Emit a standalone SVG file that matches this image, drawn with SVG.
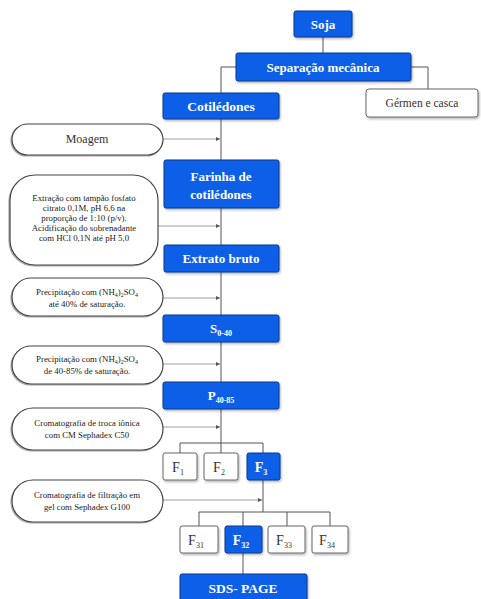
<svg xmlns="http://www.w3.org/2000/svg" width="481" height="599" viewBox="0 0 481 599" font-family="'Liberation Serif', 'Times New Roman', serif">
<defs>
<style>
.b{fill:#0b5fe8;stroke:#0a3a8c;stroke-width:1;filter:url(#sh)}
.w{fill:#fff;stroke:#666;stroke-width:1;filter:url(#sh)}
.s{fill:#fff;stroke:#444;stroke-width:1.2;filter:url(#sh2)}
.bt{font-family:'Liberation Serif',serif;font-weight:bold;fill:#fff;text-anchor:middle}
.wt{font-family:'Liberation Serif',serif;fill:#333;text-anchor:middle}
.st{font-family:'Liberation Serif',serif;fill:#222;text-anchor:middle;font-size:8.8px}
.c{fill:none;stroke:#555;stroke-width:1}
.cg{fill:none;stroke:#888;stroke-width:0.8}
</style>
<filter id="sh" x="-10%" y="-20%" width="120%" height="150%">
<feDropShadow dx="1" dy="1.5" stdDeviation="0.8" flood-color="#000" flood-opacity="0.3"/>
</filter>
<filter id="sh2" x="-10%" y="-20%" width="120%" height="150%">
<feDropShadow dx="-1" dy="1" stdDeviation="0.6" flood-color="#000" flood-opacity="0.35"/>
</filter>
<marker id="a" markerWidth="5" markerHeight="5" refX="4" refY="2.5" orient="auto" markerUnits="userSpaceOnUse">
<path d="M0,0.5 L4,2.5 L0,4.5 z" fill="#555"/>
</marker>
</defs>
<rect width="481" height="599" fill="#fff"/>
<g id="connectors">
<path class="c" d="M323,37 V53"/>
<path class="c" d="M236,67 H221 V93"/>
<path class="c" d="M411,67 H428 V89"/>
<path class="c" d="M221,119 V160"/>
<path class="c" d="M221,208 V245"/>
<path class="c" d="M221,272 V315"/>
<path class="c" d="M221,342 V382"/>
<path class="c" d="M221,409 V453"/>
<path class="c" d="M180,443 H263 M180,443 V453 M263,443 V453"/>
<path class="c" d="M263,480 V512"/>
<path class="c" d="M199,512 H330 M199,512 V526 M243,512 V526 M287,512 V526 M330,512 V526"/>
<path class="c" d="M243,553 V574"/>
<path class="cg" d="M163,139 H220" marker-end="url(#a)"/>
<path class="cg" d="M158,226 H220" marker-end="url(#a)"/>
<path class="cg" d="M163,298 H220" marker-end="url(#a)"/>
<path class="cg" d="M163,364 H220" marker-end="url(#a)"/>
<path class="cg" d="M163,427 H220" marker-end="url(#a)"/>
<path class="cg" d="M163,500 H262" marker-end="url(#a)"/>
</g>
<g id="soja"><rect class="b" x="294" y="11" width="58" height="26" rx="2"/><text class="bt" x="323" y="29" font-size="13">Soja</text></g>
<g id="separacao"><rect class="b" x="236" y="53" width="175" height="28" rx="2"/><text class="bt" x="323" y="72" font-size="13">Separação mecânica</text></g>
<g id="cotiledones"><rect class="b" x="163" y="93" width="116" height="26" rx="2"/><text class="bt" x="221" y="111" font-size="13.5">Cotilédones</text></g>
<g id="germen"><rect class="w" x="366" y="89" width="112" height="28" rx="3"/><text class="wt" x="422" y="107" font-size="11.5">Gérmen e casca</text></g>
<g id="moagem"><rect class="s" x="12" y="124" width="151" height="31" rx="15.5"/><text class="wt" x="87" y="143" font-size="12" fill="#222">Moagem</text></g>
<g id="farinha"><rect class="b" x="164" y="160" width="115" height="48" rx="2"/><text class="bt" x="221" y="181" font-size="13">Farinha de</text><text class="bt" x="221" y="199" font-size="13">cotilédones</text></g>
<g id="extracao"><rect class="s" x="10" y="175" width="148" height="90" rx="25"/>
<text class="st" x="84" y="201">Extração com tampão fosfato</text>
<text class="st" x="84" y="211">citrato 0,1M, pH 6,6 na</text>
<text class="st" x="84" y="221">proporção de 1:10 (p/v).</text>
<text class="st" x="84" y="231">Acidificação do sobrenadante</text>
<text class="st" x="84" y="241">com HCl 0,1N até pH 5,0</text></g>
<g id="extrato"><rect class="b" x="164" y="245" width="115" height="27" rx="2"/><text class="bt" x="221" y="263" font-size="13">Extrato bruto</text></g>
<g id="precip1"><rect class="s" x="12" y="278" width="151" height="38" rx="19"/>
<text class="st" x="87" y="295">Precipitação com (NH<tspan font-size="6" dy="2">4</tspan><tspan dy="-2">)</tspan><tspan font-size="6" dy="2">2</tspan><tspan dy="-2">SO</tspan><tspan font-size="6" dy="2">4</tspan></text>
<text class="st" x="87" y="307">até 40% de saturação.</text></g>
<g id="s040"><rect class="b" x="163" y="315" width="116" height="27" rx="2"/><text class="bt" x="221" y="333" font-size="13">S<tspan font-size="8" dy="3">0-40</tspan></text></g>
<g id="precip2"><rect class="s" x="12" y="346" width="151" height="38" rx="19"/>
<text class="st" x="87" y="362">Precipitação com (NH<tspan font-size="6" dy="2">4</tspan><tspan dy="-2">)</tspan><tspan font-size="6" dy="2">2</tspan><tspan dy="-2">SO</tspan><tspan font-size="6" dy="2">4</tspan></text>
<text class="st" x="87" y="374">de 40-85% de saturação.</text></g>
<g id="p4085"><rect class="b" x="163" y="382" width="116" height="27" rx="2"/><text class="bt" x="221" y="400" font-size="13">P<tspan font-size="8" dy="3">40-85</tspan></text></g>
<g id="crom1"><rect class="s" x="12" y="408" width="151" height="42" rx="21"/>
<text class="st" x="87" y="426">Cromatografia de troca iônica</text>
<text class="st" x="87" y="438">com CM Sephadex C50</text></g>
<g id="f1"><rect class="w" x="163" y="453" width="34" height="27" rx="2"/><text class="wt" x="178" y="472" font-size="14">F<tspan font-size="8" dy="3">1</tspan></text></g>
<g id="f2"><rect class="w" x="204" y="453" width="34" height="27" rx="2"/><text class="wt" x="219" y="472" font-size="14">F<tspan font-size="8" dy="3">2</tspan></text></g>
<g id="f3"><rect class="b" x="247" y="453" width="33" height="27" rx="2"/><text class="bt" x="261" y="472" font-size="14">F<tspan font-size="8" dy="3">3</tspan></text></g>
<g id="crom2"><rect class="s" x="12" y="480" width="151" height="42" rx="21"/>
<text class="st" x="87" y="498">Cromatografia de filtração em</text>
<text class="st" x="87" y="510">gel com Sephadex G100</text></g>
<g id="f31"><rect class="w" x="180" y="526" width="38" height="27" rx="2"/><text class="wt" x="196" y="545" font-size="14">F<tspan font-size="8" dy="3">31</tspan></text></g>
<g id="f32"><rect class="b" x="225" y="526" width="37" height="27" rx="2"/><text class="bt" x="241" y="545" font-size="14">F<tspan font-size="8" dy="3">32</tspan></text></g>
<g id="f33"><rect class="w" x="268" y="526" width="37" height="27" rx="2"/><text class="wt" x="284" y="545" font-size="14">F<tspan font-size="8" dy="3">33</tspan></text></g>
<g id="f34"><rect class="w" x="312" y="526" width="36" height="27" rx="2"/><text class="wt" x="327" y="545" font-size="14">F<tspan font-size="8" dy="3">34</tspan></text></g>
<g id="sds"><rect class="b" x="180" y="574" width="127" height="30" rx="2"/><text class="bt" x="243" y="593" font-size="13.5">SDS- PAGE</text></g>
</svg>
